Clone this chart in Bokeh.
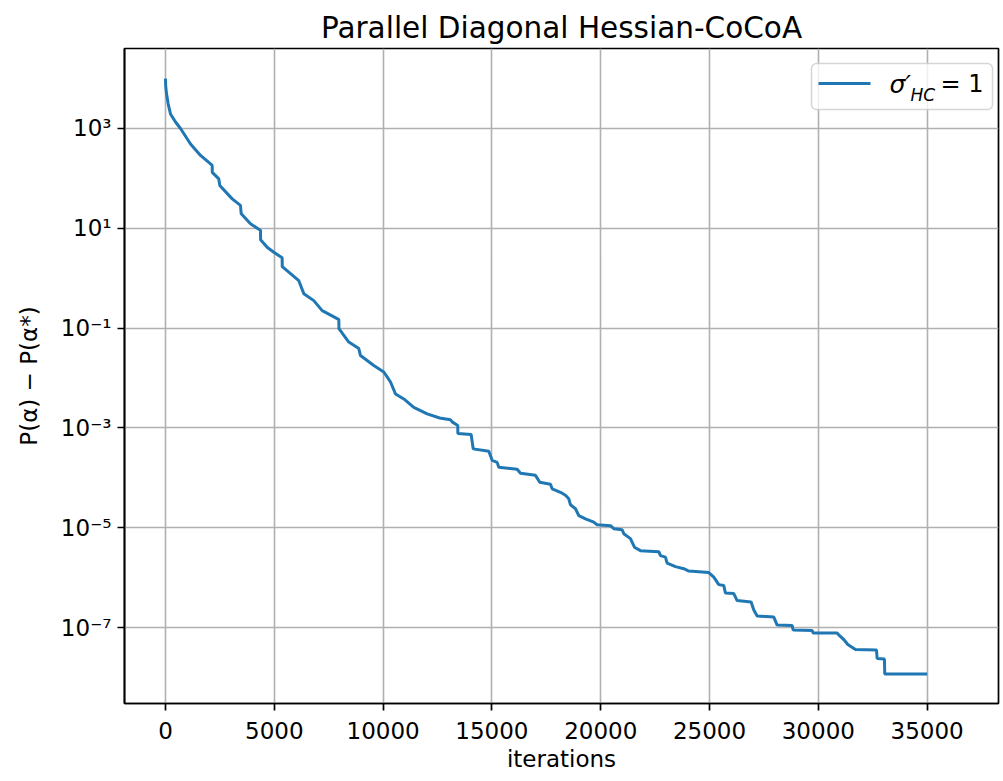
from bokeh.plotting import figure
from bokeh.models import Range1d, FixedTicker, CustomJSTickFormatter, BoxAnnotation, Label
from bokeh.embed import file_html
from bokeh.resources import INLINE

# ---- data ----
iterations = [0, 10, 46, 120, 230, 460, 690, 1150, 1610, 2070, 2145, 2150, 2450, 2495,
              3065, 3445, 3480, 3905, 4290, 4365, 4370, 4670, 4977, 5360, 5365, 6126,
              6356, 6815, 7200, 7890, 7965, 7970, 8423, 8883, 8960, 9572, 10031, 10185,
              10340, 10570, 10950, 11410, 12025, 12600, 13096, 13173, 13430, 13435, 14046,
              14140, 14857, 15011, 15240, 15317, 16161, 16313, 17002, 17200, 17691, 17768,
              18150, 18380, 18533, 18610, 18840, 18993, 19300, 19682, 19836, 20448, 20601,
              20984, 21060, 21366, 21550, 21826, 22669, 22746, 22975, 23052, 23435, 23818,
              24048, 24967, 25197, 25426, 25656, 25733, 26116, 26269, 26912, 27035, 27188,
              27954, 28107, 28796, 28842, 29715, 29761, 30863, 30986, 31170, 31354, 31707,
              32672, 32702, 33038, 33053, 35000]
gap = [1.0e4, 7.08e3, 5.01e3, 3.16e3, 1.95e3, 1.35e3, 1.0e3, 4.90e2, 2.88e2, 1.95e2, 1.82e2,
       1.32e2, 9.77e1, 7.24e1, 3.89e1, 2.88e1, 1.95e1, 1.23e1, 9.55, 9.12, 5.89, 4.17, 3.31,
       2.57, 1.70, 8.91e-1, 4.90e-1, 3.55e-1, 2.24e-1, 1.55e-1, 1.48e-1, 9.77e-2, 5.25e-2,
       3.89e-2, 2.82e-2, 1.78e-2, 1.32e-2, 1.05e-2, 8.32e-3, 4.79e-3, 3.80e-3, 2.57e-3,
       1.91e-3, 1.58e-3, 1.45e-3, 1.32e-3, 1.12e-3, 7.76e-4, 7.41e-4, 3.80e-4, 3.39e-4,
       2.24e-4, 2.04e-4, 1.62e-4, 1.48e-4, 1.23e-4, 1.12e-4, 8.13e-5, 7.41e-5, 6.03e-5,
       5.13e-5, 4.47e-5, 3.80e-5, 2.88e-5, 2.40e-5, 1.74e-5, 1.51e-5, 1.29e-5, 1.15e-5,
       1.10e-5, 9.55e-6, 9.12e-6, 7.59e-6, 6.03e-6, 4.07e-6, 3.47e-6, 3.31e-6, 2.75e-6,
       2.57e-6, 1.95e-6, 1.66e-6, 1.51e-6, 1.35e-6, 1.26e-6, 1.02e-6, 7.24e-7, 6.92e-7,
       4.90e-7, 4.79e-7, 3.47e-7, 3.24e-7, 2.24e-7, 1.70e-7, 1.62e-7, 1.12e-7, 1.10e-7,
       8.91e-8, 8.71e-8, 7.76e-8, 7.76e-8, 6.76e-8, 5.75e-8, 4.57e-8, 3.63e-8, 3.55e-8,
       2.40e-8, 2.34e-8, 1.17e-8, 1.17e-8]
x_ticks = [0, 5000, 10000, 15000, 20000, 25000, 30000, 35000]
y_ticks = [1e3, 1e1, 1e-1, 1e-3, 1e-5, 1e-7]

FONT = "DejaVu Sans"
BLUE = "#1f77b4"

p = figure(width=1003, height=781, y_axis_type="log",
           x_range=Range1d(-1884, 38280), y_range=Range1d(3.0e-9, 4.01e4),
           output_backend="svg", toolbar_location=None,
           min_border_left=124, min_border_right=5, min_border_top=48, min_border_bottom=78)
p.title.text = "Parallel Diagonal Hessian-CoCoA"
p.title.align = "center"
p.title.text_font = FONT
p.title.text_font_size = "29.5px"
p.title.text_font_style = "normal"
p.title.text_color = "black"
p.title.standoff = 8

p.line(iterations, gap, line_color=BLUE, line_width=3)

p.outline_line_color = "black"
p.outline_line_width = 1.7
p.outline_line_alpha = 1

for ax in (p.xaxis[0], p.yaxis[0]):
    ax.axis_line_color = "black"
    ax.axis_line_width = 1.7
    ax.major_tick_line_width = 1.7
    ax.major_tick_out = 7
    ax.major_tick_in = 0
    ax.minor_tick_line_color = None
    ax.major_label_text_font = FONT
    ax.major_label_text_font_size = "23px"
    ax.major_label_text_color = "black"
    ax.axis_label_text_font = FONT
    ax.axis_label_text_font_size = "23px"
    ax.axis_label_text_font_style = "normal"
    ax.axis_label_text_color = "black"

p.xaxis.ticker = FixedTicker(ticks=x_ticks)
p.yaxis.ticker = FixedTicker(ticks=y_ticks)
p.xgrid.ticker = FixedTicker(ticks=x_ticks)
p.ygrid.ticker = FixedTicker(ticks=y_ticks)
p.yaxis.formatter = CustomJSTickFormatter(code="""
const sup = {"-":"\u207b","0":"\u2070","1":"\u00b9","2":"\u00b2","3":"\u00b3","4":"\u2074",
             "5":"\u2075","6":"\u2076","7":"\u2077","8":"\u2078","9":"\u2079"};
const e = Math.round(Math.log10(tick));
return "10" + String(e).split("").map(c => sup[c]).join("");
""")
p.xaxis.axis_label = "iterations"
p.yaxis.axis_label = "P(α) − P(α*)"
p.xaxis.major_label_standoff = 11
p.yaxis.major_label_standoff = 6
p.xaxis.axis_label_standoff = 4
p.yaxis.axis_label_standoff = 16

for g in (p.xgrid[0], p.ygrid[0]):
    g.grid_line_color = "#b0b0b0"
    g.grid_line_width = 1.6
    g.grid_line_alpha = 1

# ---- legend (manual, to allow the subscript) ----
box = BoxAnnotation(left=687, right=868, bottom=594, top=640,
                    left_units="screen", right_units="screen",
                    bottom_units="screen", top_units="screen",
                    fill_color="white", fill_alpha=0.8,
                    line_color="#cccccc", line_alpha=0.8, line_width=1.5,
                    border_radius=5)
p.add_layout(box)
sample = BoxAnnotation(left=694, right=746, bottom=618.5, top=621.5,
                       left_units="screen", right_units="screen",
                       bottom_units="screen", top_units="screen",
                       fill_color=BLUE, fill_alpha=1, line_color=None)
p.add_layout(sample)
p.add_layout(Label(x=765, y=619, x_units="screen", y_units="screen", text="σ′",
                   text_font=FONT, text_font_size="25px", text_font_style="italic",
                   text_baseline="middle", text_color="black"))
p.add_layout(Label(x=786, y=609, x_units="screen", y_units="screen", text="HC",
                   text_font=FONT, text_font_size="17px", text_font_style="italic",
                   text_baseline="middle", text_color="black"))
p.add_layout(Label(x=816, y=620, x_units="screen", y_units="screen", text="= 1",
                   text_font=FONT, text_font_size="24px",
                   text_baseline="middle", text_color="black"))

open("out.html", "w").write(file_html(p, INLINE))
